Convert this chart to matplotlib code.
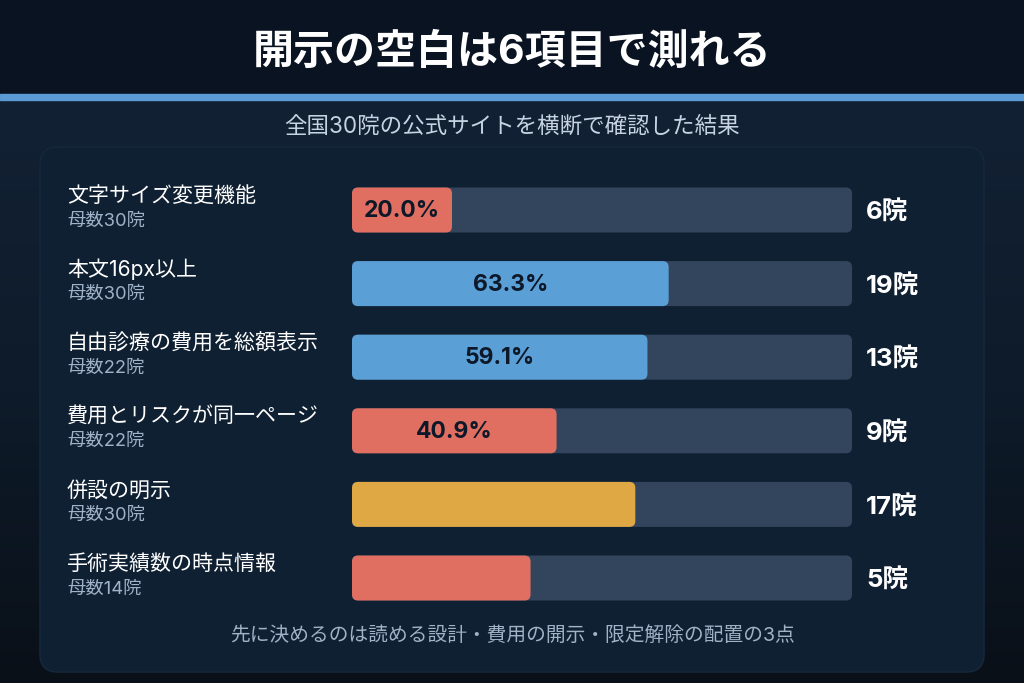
import matplotlib
matplotlib.use("Agg")
import matplotlib.pyplot as plt
import numpy as np
from matplotlib.patches import FancyBboxPatch, Rectangle
from matplotlib.transforms import blended_transform_factory
from matplotlib.colors import LinearSegmentedColormap

# Inter for Latin/digits (wider digits), Noto CJK for Japanese
plt.rcParams['font.family'] = ['Inter', 'Noto Sans CJK JP', 'DejaVu Sans']

# ---- data ----
items = ["文字サイズ変更機能", "本文16px以上", "自由診療の費用を総額表示",
         "費用とリスクが同一ページ", "併設の明示", "手術実績数の時点情報"]
denominators = [30, 30, 22, 22, 30, 14]
counts = [6, 19, 13, 9, 17, 5]
bar_colors = ["#e06f61", "#5b9fd7", "#5b9fd7", "#e06f61", "#dfa845", "#e06f61"]
show_pct = [True, True, True, True, False, False]

title = "開示の空白は6項目で測れる"
subtitle = "全国30院の公式サイトを横断で確認した結果"
footer = "先に決めるのは読める設計・費用の開示・限定解除の配置の3点"

pct = [c / d * 100 for c, d in zip(counts, denominators)]

W, H = 1024, 683
fig = plt.figure(figsize=(W / 100, H / 100), dpi=100)

# ---- background (pixel coords, y down) ----
bg = fig.add_axes([0, 0, 1, 1])
bg.set_xlim(0, W)
bg.set_ylim(H, 0)
bg.axis("off")

grad = LinearSegmentedColormap.from_list("bg", ["#122134", "#0e1b2a", "#0a1018"])
bg.imshow(np.linspace(0, 1, 200).reshape(-1, 1), cmap=grad, aspect="auto",
          extent=[0, W, H, 100], zorder=0)
bg.add_patch(Rectangle((0, 0), W, 94, color="#091322", zorder=1))
bg.add_patch(Rectangle((0, 94), W, 6, color="#5b9bd5", zorder=1))
bg.add_patch(FancyBboxPatch((40, 147), 944, 525, boxstyle="round,pad=0,rounding_size=18",
                            facecolor="#0f2032", edgecolor="#15273a", linewidth=1.2, zorder=1))

bg.text(W / 2, 52, title, color="white", fontsize=29.5, fontweight="bold",
        ha="center", va="center", zorder=3)
bg.text(W / 2, 127, subtitle, color="#c5d3e2", fontsize=16.2,
        ha="center", va="center", zorder=3)
bg.text(W / 2, 636, footer, color="#9fb2c6", fontsize=14.2,
        ha="center", va="center", zorder=3)

# ---- bars ----
row_top, row_bot = 210, 578
step = (row_bot - row_top) / (len(items) - 1)
y0 = row_top - step / 2
y1 = row_bot + step / 2
ax = fig.add_axes([352 / W, 1 - y1 / H, 500 / W, (y1 - y0) / H])
ax.set_xlim(0, 100)
ax.set_ylim(len(items) - 0.5, -0.5)
ax.axis("off")

ypos = np.arange(len(items))
bar_h = 45 / step
tracks = ax.barh(ypos, [100] * len(items), height=bar_h, color="#33455c")
fills = ax.barh(ypos, pct, height=bar_h, color=bar_colors)

# swap plain bars for rounded ones
x_per_px = 100 / 500
y_per_px = 1 / step
for group, z in ((tracks, 2), (fills, 3)):
    for b in group:
        rp = FancyBboxPatch((b.get_x(), b.get_y()), b.get_width(), b.get_height(),
                            boxstyle="round,pad=0,rounding_size=%f" % (6 * x_per_px),
                            mutation_aspect=y_per_px / x_per_px,
                            facecolor=b.get_facecolor(), edgecolor="none", zorder=z)
        ax.add_patch(rp)
        b.remove()

fig_x = blended_transform_factory(fig.transFigure, ax.transData)
for i, (name, d, c, p, s) in enumerate(zip(items, denominators, counts, pct, show_pct)):
    ax.text(67 / W, i - 14 * y_per_px, name, transform=fig_x, color="white",
            fontsize=15.1, ha="left", va="center", clip_on=False)
    ax.text(67 / W, i + 11 * y_per_px, f"母数{d}院", transform=fig_x, color="#9fb3c8",
            fontsize=13.2, ha="left", va="center", clip_on=False)
    ax.text(866 / W, i + 2 * y_per_px, f"{c}院", transform=fig_x, color="white",
            fontsize=18.5, fontweight="bold", ha="left", va="center", clip_on=False)
    if s:
        ax.text(p / 2, i + 1 * y_per_px, f"{p:.1f}%", color="#0d1828", fontsize=16.5,
                fontweight="bold", ha="center", va="center", zorder=5)

fig.savefig("out.png", dpi=100, facecolor="#091322")
